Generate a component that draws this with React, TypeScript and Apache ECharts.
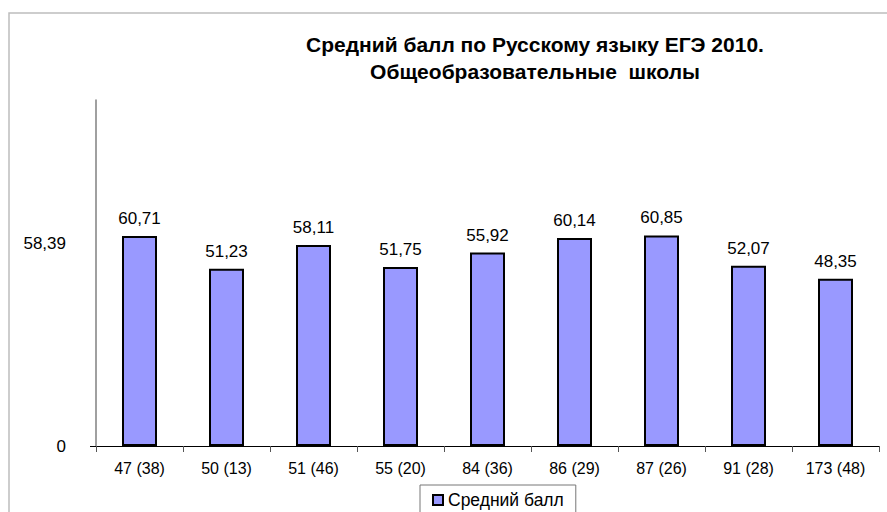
import React, { useEffect, useRef } from "react";
import * as echarts from "echarts";

const categories = ["47 (38)", "50 (13)", "51 (46)", "55 (20)", "84 (36)", "86 (29)", "87 (26)", "91 (28)", "173 (48)"];
const values = [60.71, 51.23, 58.11, 51.75, 55.92, 60.14, 60.85, 52.07, 48.35];
const yTickValues = [0, 58.39];
const seriesName = "Средний балл";
const titleLines = ["Средний балл по Русскому языку ЕГЭ 2010.", "Общеобразовательные  школы"];

const fmt = (v: number) => (v === 0 ? "0" : v.toFixed(2).replace(".", ","));
const FONT = "Liberation Sans, Arial, sans-serif";

export default function App() {
  const ref = useRef<HTMLDivElement>(null);
  useEffect(() => {
    const chart = echarts.init(ref.current!, null, { renderer: "svg" });
    chart.setOption({
      animation: false,
      backgroundColor: "#fff",
      textStyle: { fontFamily: FONT },
      title: {
        text: titleLines.join("\n"),
        left: 530,
        top: 26,
        textAlign: "center",
        textStyle: { fontSize: 21, fontWeight: "bold", color: "#000", lineHeight: 27, fontFamily: FONT },
      },
      graphic: [
        {
          type: "polyline",
          shape: { points: [[9, 520], [9, 13], [900, 13]] },
          style: { stroke: "#bdbdbd", lineWidth: 1.5, fill: "none" },
          silent: true,
        },
      ],
      legend: {
        data: [seriesName],
        left: 420,
        top: 485,
        icon: "rect",
        itemWidth: 10,
        itemHeight: 10,
        itemGap: 3,
        padding: [6, 12, 20, 12],
        borderColor: "#777",
        borderWidth: 1,
        textStyle: { fontSize: 17.5, color: "#000", fontFamily: FONT },
      },
      grid: { left: 96, right: 8, top: 100, bottom: 66, containLabel: false },
      xAxis: {
        type: "category",
        data: categories,
        axisLine: { lineStyle: { color: "#000", width: 1 } },
        axisTick: { show: true, length: 6, lineStyle: { color: "#555" } },
        axisLabel: { fontSize: 16, color: "#000", margin: 14, fontFamily: FONT },
      },
      yAxis: {
        type: "value",
        min: 0,
        max: 100,
        axisLine: { show: true, lineStyle: { color: "#808080", width: 1.5 } },
        axisTick: { show: true, length: 6, customValues: [0], lineStyle: { color: "#000" } },
        splitLine: { show: false },
        axisLabel: {
          customValues: yTickValues,
          formatter: (v: number) => fmt(v),
          fontSize: 17,
          color: "#000",
          margin: 30,
          fontFamily: FONT,
        },
      },
      series: [
        {
          name: seriesName,
          type: "bar",
          data: values,
          barWidth: 35,
          itemStyle: { color: "#9999FF", borderColor: "#000", borderWidth: 2 },
          label: {
            show: true,
            position: "top",
            distance: 9,
            formatter: (p: any) => fmt(p.value),
            fontSize: 17,
            color: "#000",
            fontFamily: FONT,
          },
        },
      ],
    });
    return () => chart.dispose();
  }, []);
  return <div ref={ref} style={{ width: 887, height: 512, position: "absolute", left: 0, top: 0 }} />;
}
